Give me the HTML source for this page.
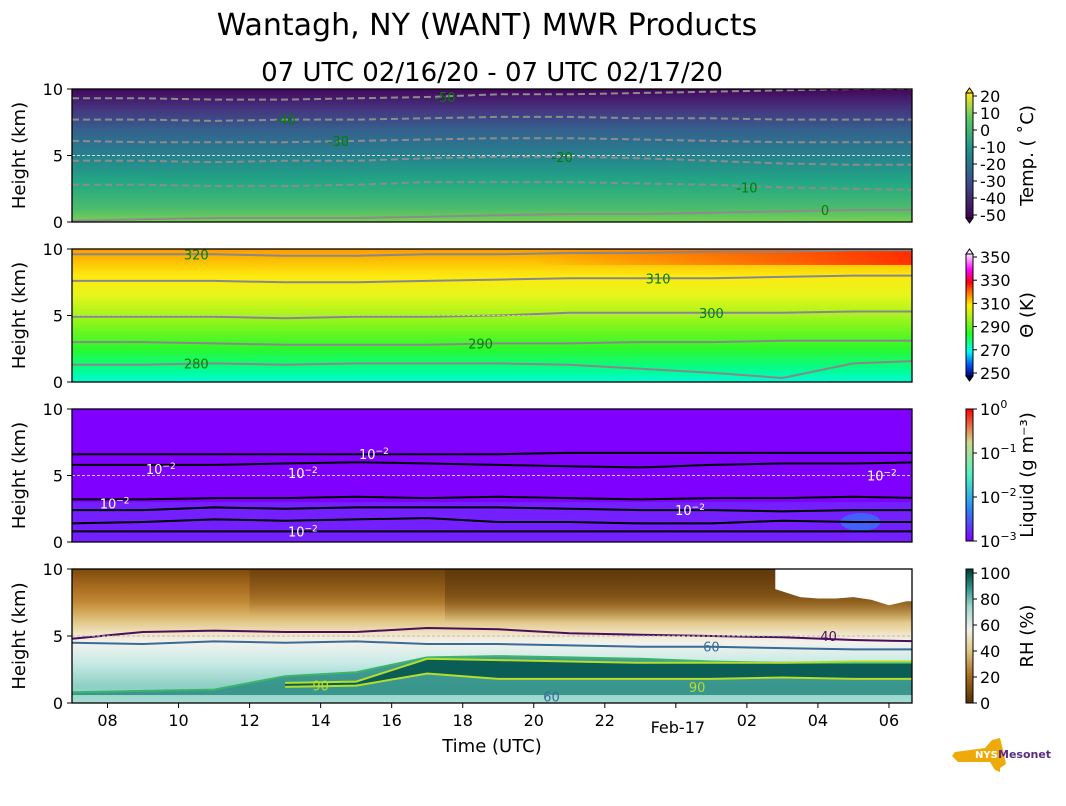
<!DOCTYPE html>
<html><head><meta charset="utf-8"><style>
body{margin:0;background:#fff;}
svg{display:block;font-family:"DejaVu Sans","Liberation Sans",sans-serif;}
</style></head><body>
<svg id="fig" width="1066" height="806" viewBox="0 0 1066 806" xmlns="http://www.w3.org/2000/svg">
<defs>
<linearGradient id="gT" x1="0" y1="1" x2="0" y2="0">
<stop offset="0" stop-color="#7ad151"/><stop offset="0.1" stop-color="#4cbb6c"/><stop offset="0.3" stop-color="#22a884"/><stop offset="0.5" stop-color="#26818e"/><stop offset="0.7" stop-color="#355f8d"/><stop offset="0.85" stop-color="#45347f"/><stop offset="1" stop-color="#44075a"/></linearGradient>
<linearGradient id="gTh" x1="0" y1="1" x2="0" y2="0">
<stop offset="0" stop-color="#00fbd6"/><stop offset="0.08" stop-color="#00fc9a"/><stop offset="0.25" stop-color="#2cf82c"/><stop offset="0.45" stop-color="#8ef51a"/><stop offset="0.65" stop-color="#e6f51a"/><stop offset="0.8" stop-color="#fde910"/><stop offset="0.93" stop-color="#fcb800"/><stop offset="1" stop-color="#fd9a00"/></linearGradient>
<linearGradient id="gRed" x1="0" y1="0" x2="1" y2="0"><stop offset="0" stop-color="#ff3000" stop-opacity="0"/><stop offset="0.55" stop-color="#ff3000" stop-opacity="0"/><stop offset="1" stop-color="#ff2000" stop-opacity="0.9"/></linearGradient>
<linearGradient id="gRH" x1="0" y1="1" x2="0" y2="0">
<stop offset="0" stop-color="#a7dcd3"/><stop offset="0.12" stop-color="#8ccfc3"/><stop offset="0.3" stop-color="#c8ebe6"/><stop offset="0.45" stop-color="#f2f2ee"/><stop offset="0.52" stop-color="#f1e4c3"/><stop offset="0.62" stop-color="#dfc27d"/><stop offset="0.75" stop-color="#c28a35"/><stop offset="0.88" stop-color="#a5681e"/><stop offset="1" stop-color="#7c4a0b"/></linearGradient>
<linearGradient id="gDark" x1="0" y1="0" x2="0" y2="1"><stop offset="0" stop-color="#5a360a" stop-opacity="0.85"/><stop offset="0.5" stop-color="#5a360a" stop-opacity="0.6"/><stop offset="1" stop-color="#5a360a" stop-opacity="0"/></linearGradient>
<linearGradient id="cT" x1="0" y1="1" x2="0" y2="0"><stop offset="0" stop-color="#440154"/><stop offset="0.3" stop-color="#3b528b"/><stop offset="0.55" stop-color="#21918c"/><stop offset="0.8" stop-color="#5ec962"/><stop offset="1" stop-color="#fde725"/></linearGradient>
<linearGradient id="cTh" x1="0" y1="1" x2="0" y2="0"><stop offset="0" stop-color="#000080"/><stop offset="0.1" stop-color="#0060ff"/><stop offset="0.2" stop-color="#00fff0"/><stop offset="0.35" stop-color="#20ff20"/><stop offset="0.45" stop-color="#90f020"/><stop offset="0.58" stop-color="#fff000"/><stop offset="0.7" stop-color="#ff6000"/><stop offset="0.77" stop-color="#ff0010"/><stop offset="0.87" stop-color="#ff00ff"/><stop offset="1" stop-color="#ffe8ff"/></linearGradient>
<linearGradient id="cL" x1="0" y1="1" x2="0" y2="0"><stop offset="0" stop-color="#8000ff"/><stop offset="0.25" stop-color="#2a8af5"/><stop offset="0.5" stop-color="#4ff2c2"/><stop offset="0.75" stop-color="#d2d88a"/><stop offset="1" stop-color="#ff0000"/></linearGradient>
<linearGradient id="cRH" x1="0" y1="1" x2="0" y2="0"><stop offset="0" stop-color="#543005"/><stop offset="0.2" stop-color="#a66a1f"/><stop offset="0.4" stop-color="#e2cb8a"/><stop offset="0.55" stop-color="#f2f1ea"/><stop offset="0.72" stop-color="#9fd7cd"/><stop offset="0.85" stop-color="#35978f"/><stop offset="1" stop-color="#003c30"/></linearGradient>
<clipPath id="clip1"><rect x="72" y="89" width="840" height="133"/></clipPath>
<clipPath id="clip2"><rect x="72" y="249" width="840" height="133"/></clipPath>
<clipPath id="clip3"><rect x="72" y="409" width="840" height="133"/></clipPath>
<clipPath id="clip4"><rect x="72" y="569" width="840" height="134"/></clipPath>
</defs>
<text x="487" y="35" font-size="30" text-anchor="middle">Wantagh, NY (WANT) MWR Products</text>
<text x="492" y="81" font-size="26" text-anchor="middle">07 UTC 02/16/20 - 07 UTC 02/17/20</text>
<g id="plots"></g>
</svg>
<script>
// ---- data ----
const hours = [7,9,11,13,15,17,19,21,23,25,27,29,31];
const xTickHours = [8,10,12,14,16,18,20,22,24,26,28,30];
const xTickLabels = ["08","10","12","14","16","18","20","22","","02","04","06"];
const yTicks = [0,5,10];
// Temperature contours (km)
const tempLevels = ["-50","-40","-30","-20","-10","0"];
const tempC50 = [9.3,9.3,9.2,9.2,9.3,9.4,9.6,9.6,9.7,9.8,9.9,10,10];
const tempC40 = [7.7,7.7,7.6,7.7,7.7,7.8,7.9,7.9,7.8,7.8,7.7,7.7,7.7];
const tempC30 = [6.1,6.0,6.0,6.0,6.1,6.2,6.3,6.3,6.2,6.1,6.0,6.0,6.0];
const tempC20 = [4.6,4.6,4.5,4.6,4.6,4.8,4.9,4.9,4.8,4.6,4.4,4.3,4.3];
const tempC10 = [2.8,2.8,2.7,2.7,2.8,3.0,3.0,3.0,2.9,2.8,2.6,2.5,2.4];
const tempC0 = [0.1,0.2,0.3,0.3,0.3,0.4,0.5,0.6,0.6,0.7,0.8,0.9,0.9];
// Theta contours
const thLevels = ["280","290","300","310","320"];
const thC280 = [1.3,1.3,1.4,1.3,1.4,1.4,1.4,1.3,1.0,0.7,0.3,1.4,1.6];
const thC290 = [3.0,3.0,2.9,2.8,2.8,2.8,2.9,2.9,3.0,3.0,3.1,3.1,3.1];
const thC300 = [4.9,4.9,4.9,4.8,4.9,4.9,5.0,5.2,5.2,5.2,5.2,5.3,5.3];
const thC310 = [7.6,7.6,7.6,7.5,7.5,7.6,7.7,7.8,7.8,7.8,7.9,8.0,8.0];
const thC320 = [9.6,9.6,9.6,9.5,9.5,9.6,9.6,9.7,9.7,9.8,9.8,9.9,9.9];
// Liquid contours (all 10^-2)
const liqA = [6.6,6.6,6.6,6.6,6.6,6.6,6.6,6.7,6.7,6.7,6.7,6.7,6.7];
const liqB = [5.8,5.8,5.8,5.9,6.0,5.9,5.8,5.7,5.6,5.8,5.9,5.9,6.0];
const liqC = [3.2,3.2,3.3,3.3,3.4,3.3,3.4,3.3,3.2,3.3,3.3,3.4,3.3];
const liqD = [2.4,2.4,2.6,2.5,2.6,2.6,2.6,2.5,2.4,2.4,2.3,2.4,2.4];
const liqE = [1.4,1.5,1.7,1.6,1.7,1.8,1.5,1.5,1.4,1.4,1.6,1.5,1.5];
const liqF = [0.8,0.8,0.8,0.8,0.8,0.8,0.8,0.8,0.8,0.8,0.8,0.8,0.8];
// RH contours (null = contour absent)
const rh40 = [4.8,5.3,5.4,5.3,5.3,5.6,5.5,5.2,5.1,5.0,4.9,4.7,4.6];
const rh60 = [4.5,4.4,4.6,4.5,4.6,4.4,4.4,4.3,4.2,4.2,4.1,4.0,4.0];
const rh80 = [0.8,0.9,1.0,2.0,2.3,3.4,3.5,3.4,3.3,3.1,3.0,3.0,3.0];
const rh90top = [null,null,null,1.5,1.6,3.3,3.2,3.1,3.0,3.0,3.0,3.1,3.1];
const rh90bot = [null,null,null,1.2,1.3,2.2,1.8,1.8,1.8,1.8,1.9,1.8,1.8];
const rhBlankHours = [26.8,27.5,28,28.5,29,29.5,30,30.5,31];
const rhBlankBottom = [8.5,7.9,7.8,7.8,7.9,7.7,7.3,7.6,7.6];

// ---- geometry ----
const X0=72,X1=912;
function x(h){return X0+(h-7)*35.52;}
const panels=[{t:89,b:222},{t:249,b:382},{t:409,b:542},{t:569,b:703}];
function y(p,km){const P=panels[p];return P.b-(km/10)*(P.b-P.t);}
const NS="http://www.w3.org/2000/svg";
const root=document.getElementById('plots');
function el(tag,attrs,parent){const e=document.createElementNS(NS,tag);for(const k in attrs)e.setAttribute(k,attrs[k]);(parent||root).appendChild(e);return e;}
function pathFor(p,arr){let d='',pen=false;arr.forEach((v,i)=>{if(v===null){pen=false;return;}d+=(pen?'L':'M')+x(hours[i]).toFixed(1)+','+y(p,v).toFixed(1);pen=true;});return d;}
function areaFor(p,top,bot){let pts=[];top.forEach((v,i)=>{if(v!==null)pts.push([x(hours[i]),y(p,v)]);});for(let i=bot.length-1;i>=0;i--)if(bot[i]!==null)pts.push([x(hours[i]),y(p,bot[i])]);return 'M'+pts.map(q=>q[0].toFixed(1)+','+q[1].toFixed(1)).join('L')+'Z';}

const fills=['url(#gT)','url(#gTh)','#7f00ff','url(#gRH)'];
panels.forEach((P,p)=>{
  const g=el('g',{'clip-path':'url(#clip'+(p+1)+')'});
  
  
  el('rect',{x:X0,y:P.t,width:X1-X0,height:P.b-P.t,fill:fills[p]},g);
  P.g=g;
});
function line(p,arr,stroke,w,dash,name){
  const e=el('path',{d:pathFor(p,arr),fill:'none',stroke:stroke,'stroke-width':w},panels[p].g);
  if(dash)e.setAttribute('stroke-dasharray',dash);
  
  
  return e;
}
function label(p,h,km,txt,color,name,sup){
  const t=el('text',{x:x(h),y:y(p,km)+5,'font-size':13,fill:color,'text-anchor':'middle'},panels[p].g);
  t.textContent=txt;
  if(sup){const s=el('tspan',{dy:-5,'font-size':9},t);s.textContent=sup;}
  
  
}
// Panel 1
const tArrs=[tempC50,tempC40,tempC30,tempC20,tempC10,tempC0];
tArrs.forEach((a,i)=>line(0,a,'#8c8c8c',2,i<5?'7,4':null,'temp-contour-'+tempLevels[i]));
line(0,[5,5,5,5,5,5,5,5,5,5,5,5,5],'#e0e0e0',1,'3,2','temp-5km-ref');
const tLabH=[17.5,13,14.5,20.8,26,28.2];
tArrs.forEach((a,i)=>label(0,tLabH[i],a[Math.round((tLabH[i]-7)/2)],tempLevels[i],'#008000','temp-contour-label-'+tempLevels[i]));
// Panel 2
el('rect',{x:X0,y:y(1,10),width:X1-X0,height:y(1,8.8)-y(1,10),fill:'url(#gRed)'},panels[1].g);
const thArrs=[thC280,thC290,thC300,thC310,thC320];
thArrs.forEach((a,i)=>line(1,a,'#888888',2,null,'theta-contour-'+thLevels[i]));
line(1,[5,5,5,5,5,5,5,5,5,5,5,5,5],'#cccc99',1,'3,2','theta-5km-ref');
const thLabH=[10.5,18.5,25,23.5,10.5];
thArrs.forEach((a,i)=>label(1,thLabH[i],a[Math.round((thLabH[i]-7)/2)],thLevels[i],'#008000','theta-contour-label-'+thLevels[i]));
// Panel 3
el('rect',{x:x(7),y:y(2,3),width:X1-X0,height:y(2,0)-y(2,3),fill:'#6a3dff',opacity:0.5},panels[2].g);
el('ellipse',{cx:x(29.2),cy:y(2,1.5),rx:20,ry:9,fill:'#2f7cf5',opacity:0.7},panels[2].g);
const lArrs=[liqA,liqB,liqC,liqD,liqE,liqF];
lArrs.forEach((a,i)=>line(2,a,'#000',2,null,'liquid-contour-'+(i+1)));
line(2,[5,5,5,5,5,5,5,5,5,5,5,5,5],'#cccccc',1,'3,2','liquid-5km-ref');
[[15.5,6.6],[9.5,5.5],[13.5,5.2],[8.2,2.9],[13.5,0.8],[24.4,2.4],[29.8,5.0]].forEach((q,i)=>label(2,q[0],q[1],'10','#fff','liquid-contour-label-'+i,'−2'));
// Panel 4
el('rect',{x:x(17.5),y:y(3,10),width:X1-x(17.5),height:y(3,6)-y(3,10),fill:'url(#gDark)'},panels[3].g);
el('rect',{x:x(12),y:y(3,10),width:x(17.5)-x(12),height:y(3,6.5)-y(3,10),fill:'url(#gDark)',opacity:0.5},panels[3].g);
el('path',{d:areaFor(3,rh80,rh80.map(v=>0.6)),fill:'#2a8c82',opacity:0.85},panels[3].g);
el('path',{d:areaFor(3,rh90top,rh90bot),fill:'#0a5e55'},panels[3].g);
let bd='M'+x(rhBlankHours[0]).toFixed(1)+','+y(3,10);
rhBlankHours.forEach((h,i)=>{bd+='L'+x(h).toFixed(1)+','+y(3,rhBlankBottom[i]).toFixed(1);});
bd+='L'+x(31)+','+y(3,10)+'Z';
const blank=el('path',{d:bd,fill:'#fff'},panels[3].g);


line(3,rh40,'#4b0e5c',2,null,'rh-contour-40');
line(3,rh60,'#3a6a95',2,null,'rh-contour-60');
line(3,rh80,'#3cb46e',2,null,'rh-contour-80');
line(3,rh90top,'#b5dd2a',2,null,'rh-contour-90-upper');
line(3,rh90bot,'#b5dd2a',2,null,'rh-contour-90-lower');
line(3,[5,5,5,5,5,5,5,5,5,5,5,5,5],'#bbbbbb',1,'3,2','rh-5km-ref');
label(3,28.3,5,'40','#4b0e5c','rh-label-40');
label(3,25,4.2,'60','#3a6a95','rh-label-60');
label(3,20.5,0.5,'60','#3a6a95','rh-label-60b');
label(3,14,1.3,'90','#b5dd2a','rh-label-90');
label(3,24.6,1.2,'90','#b5dd2a','rh-label-90b');

// axes frames, ticks
panels.forEach((P,p)=>{
  const f=el('rect',{x:X0,y:P.t,width:X1-X0,height:P.b-P.t,fill:'none',stroke:'#000','stroke-width':1.3});
  
  
  yTicks.forEach(v=>{
    el('line',{x1:X0-5,x2:X0,y1:y(p,v),y2:y(p,v),stroke:'#000'});
    const t=el('text',{x:X0-9,y:y(p,v)+6,'font-size':16,'text-anchor':'end'});
    t.textContent=v;
    
    
  });
  const yl=el('text',{x:0,y:0,'font-size':18,'text-anchor':'middle',transform:'translate(25,'+((P.t+P.b)/2)+') rotate(-90)'});
  yl.textContent='Height (km)';
  
  
});
xTickHours.forEach((h,i)=>{
  el('line',{x1:x(h),x2:x(h),y1:703,y2:708,stroke:'#000'});
  const t=el('text',{x:x(h),y:726,'font-size':16,'text-anchor':'middle'});
  t.textContent=xTickLabels[i];
  
  
});
const fb=el('text',{x:x(24)+2,y:733,'font-size':16,'text-anchor':'middle'});fb.textContent='Feb-17';


const xt=el('text',{x:492,y:752,'font-size':18,'text-anchor':'middle'});xt.textContent='Time (UTC)';



// colorbars
const cbs=[
 {t:93,b:218,fill:'url(#cT)',ticks:['20','10','0','-10','-20','-30','-40','-50'],title:'Temp. ( ˚C)',ext:['#fde725','#440154'],name:'temp'},
 {t:254,b:376,fill:'url(#cTh)',ticks:['350','330','310','290','270','250'],title:'Θ (K)',ext:['#fff0ff','#000050'],name:'theta'},
 {t:409,b:541,fill:'url(#cL)',ticks:['10|0','10|−1','10|−2','10|−3'],title:'Liquid (g m⁻³)',name:'liquid'},
 {t:569,b:703,fill:'url(#cRH)',ticks:['100','80','60','40','20','0'],title:'RH (%)',name:'rh',top:573},
];
cbs.forEach(c=>{
  const r=el('rect',{x:966,y:c.t,width:7,height:c.b-c.t,fill:c.fill,stroke:'#000','stroke-width':1});
  
  
  if(c.ext){el('path',{d:'M966,'+c.t+' L969.5,'+(c.t-5)+' L973,'+c.t+'Z',fill:c.ext[0],stroke:'#000'});
    el('path',{d:'M966,'+c.b+' L969.5,'+(c.b+5)+' L973,'+c.b+'Z',fill:c.ext[1],stroke:'#000'});}
  const t0=c.top||(c.ext?c.t+3:c.t), t1=c.ext?c.b-3:c.b;
  c.ticks.forEach((s,i)=>{
    const yy=t0+(t1-t0)*i/(c.ticks.length-1);
    el('line',{x1:973,x2:977,y1:yy,y2:yy,stroke:'#000'});
    const t=el('text',{x:980,y:yy+6,'font-size':16});
    if(s.includes('|')){const [b,e]=s.split('|');t.textContent=b;const sp=el('tspan',{dy:-7,'font-size':11},t);sp.textContent=e;}
    else t.textContent=s;
    
    
  });
  const tt=el('text',{x:0,y:0,'font-size':18,'text-anchor':'middle',transform:'translate(1033,'+((c.t+c.b)/2)+') rotate(-90)'});
  tt.textContent=c.title;
  
  
});
// logo
const lg=el('g',{});


el('path',{d:'M955,752 L985,748 L992,740 L1000,738 L1003,750 L1006,764 L1000,768 L1000,772 L995,770 L990,762 L958,762 L952,756Z',fill:'#eeaa0a'},lg);
const lt=el('text',{x:975,y:758,'font-size':10,'font-weight':'bold',fill:'#fff'},lg);lt.textContent='NYS';
const lm=el('text',{x:998,y:758,'font-size':11,'font-weight':'bold',fill:'#5a2d82'},lg);lm.textContent='Mesonet';
</script>
</body></html>
